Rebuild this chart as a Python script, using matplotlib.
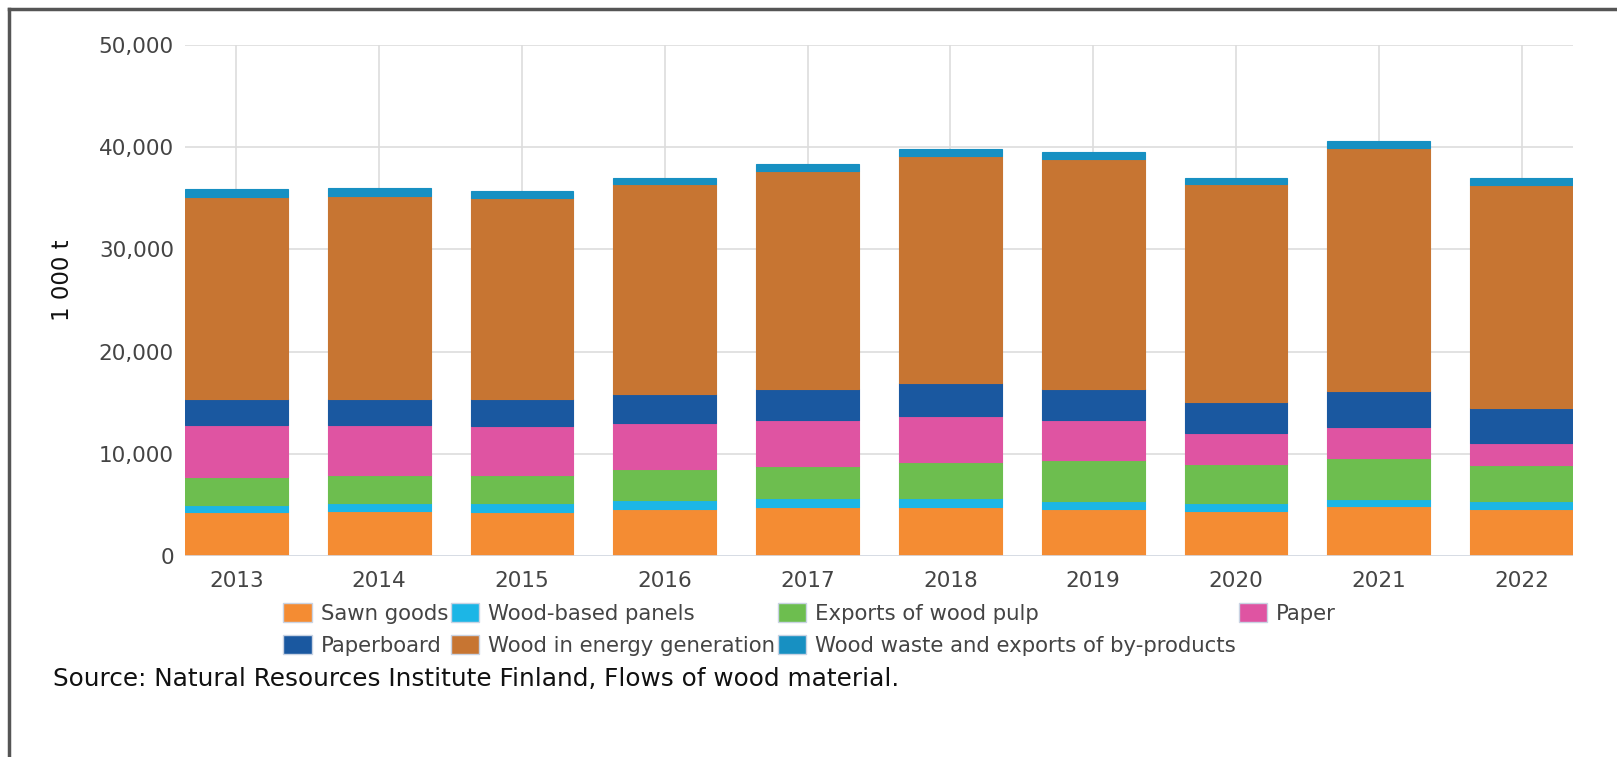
import numpy as np
import matplotlib.pyplot as plt
from matplotlib.patches import Rectangle
from matplotlib.lines import Line2D

# Flows of wood material, 1 000 t
years = ['2013', '2014', '2015', '2016', '2017', '2018', '2019', '2020', '2021', '2022']
sawn_goods = [4250, 4410, 4310, 4570, 4800, 4800, 4570, 4380, 4870, 4570]
wood_panels = [720, 780, 820, 880, 820, 880, 780, 750, 690, 780]
pulp_exports = [2770, 2710, 2770, 3010, 3190, 3530, 4010, 3820, 3990, 3530]
paper = [5060, 4900, 4800, 4560, 4480, 4500, 3920, 3040, 3100, 2130]
paperboard = [2520, 2520, 2620, 2780, 3010, 3170, 3040, 3100, 3500, 3430]
energy = [19840, 19940, 19750, 20570, 21410, 22260, 22530, 21290, 23770, 21870]
waste = [720, 720, 690, 650, 660, 690, 720, 650, 650, 720]

series = [
    ('Sawn goods', sawn_goods, '#F48C33'),
    ('Wood-based panels', wood_panels, '#1CB6E6'),
    ('Exports of wood pulp', pulp_exports, '#6DBE4F'),
    ('Paper', paper, '#DF54A2'),
    ('Paperboard', paperboard, '#1A58A0'),
    ('Wood in energy generation', energy, '#C77532'),
    ('Wood waste and exports of by-products', waste, '#1790C2'),
]

W, H = 1617, 757
fig = plt.figure(figsize=(W / 100, H / 100), dpi=100)
plt.rcParams['font.family'] = ['DejaVu Sans']

ax = fig.add_axes([185 / W, 1 - 555.7 / H, (1573 - 185) / W, (555.7 - 45.2) / H])

x = np.arange(len(years))
bw = 0.72
bottom = np.zeros(len(years))
for name, vals, col in series:
    vals = np.array(vals, dtype=float)
    ax.bar(x, vals, bw, bottom=bottom, color=col, edgecolor=col,
           linewidth=0.8, zorder=3)
    bottom += vals

ax.set_xlim(-bw / 2, len(years) - 1 + bw / 2)
ax.set_ylim(0, 50000)
ax.set_yticks(range(0, 50001, 10000))
ax.set_yticklabels([f'{v:,}' for v in range(0, 50001, 10000)])
ax.set_xticks(x)
ax.set_xticklabels(years)
ax.grid(True, color='#dddddd', linewidth=1.2, zorder=0)
ax.tick_params(length=0, labelsize=15.5, labelcolor='#444444')
ax.tick_params(axis='y', pad=8)
ax.tick_params(axis='x', pad=11)
for s in ax.spines.values():
    s.set_visible(False)
ax.axhline(0, color='#d5dbe5', lw=1.2, zorder=4)

fig.text(62 / W, 1 - 280 / H, '1 000 t', rotation=90, ha='center', va='center',
         fontsize=16.5, color='#111111')

# legend laid out in two rows, columns filled top to bottom
order = [0, 4, 1, 5, 2, 6, 3]
handles = [Rectangle((0, 0), 1, 1, facecolor=series[i][2], edgecolor='#c9d3e3', lw=1)
           for i in order]
labels = [series[i][0] for i in order]
fig.legend(handles, labels, ncol=4, loc='upper left',
           bbox_to_anchor=(283 / W, 1 - 603 / H), frameon=False,
           fontsize=15.3, handlelength=1.35, handleheight=1.0,
           handletextpad=0.42, columnspacing=0.12, labelspacing=0.52,
           borderpad=0, borderaxespad=0, labelcolor='#444444')

fig.text(53 / W, 1 - 679 / H,
         'Source: Natural Resources Institute Finland, Flows of wood material.',
         ha='left', va='center', fontsize=17.8, color='#111111')

# frame lines along the top and left edges
fig.add_artist(Line2D([9 / W, 1], [1 - 9 / H, 1 - 9 / H], color='#555555', lw=2.5,
                      transform=fig.transFigure))
fig.add_artist(Line2D([9 / W, 9 / W], [0, 1 - 9 / H], color='#555555', lw=2.5,
                      transform=fig.transFigure))

fig.savefig('out.png', dpi=100)
